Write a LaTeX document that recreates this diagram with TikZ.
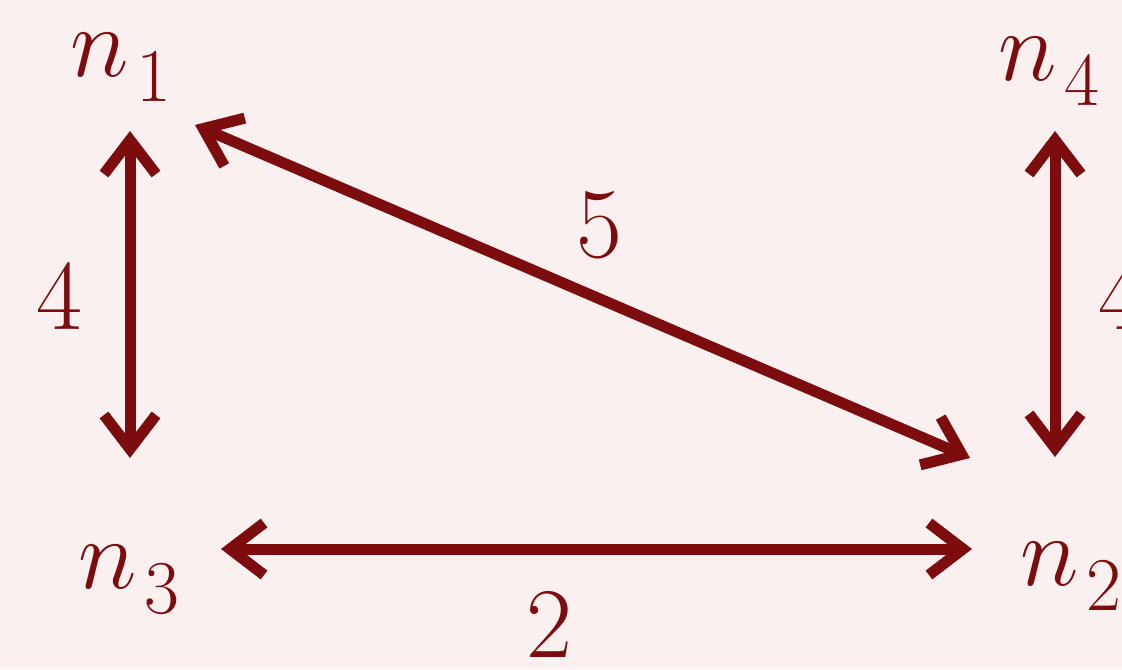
\RequirePackage{fix-cm}
\documentclass[tikz,border=0pt]{standalone}
\usetikzlibrary{arrows.meta}
\definecolor{dred}{RGB}{125,12,14}
\definecolor{bgpink}{RGB}{251,240,240}
\newcommand{\vname}[1]{$n$\kern4pt\raisebox{-12.5pt}{\fontsize{38}{40}\selectfont #1}}
\tikzset{
  lbl/.style={text=dred, inner sep=0pt, font=\fontsize{50}{60}\selectfont},
  vtx/.style={lbl, anchor=base west},
  link/.style={draw=dred, line width=5.5pt, {Straight Barb[length=17pt,width=26pt]}-{Straight Barb[length=17pt,width=26pt]}}
}
\begin{document}
\begin{tikzpicture}[x=0.5pt,y=-0.5pt]
\fill[bgpink] (0,0) rectangle (1122,669);
\useasboundingbox (0,0) rectangle (1122,669);
\node[vtx] (n1) at (70,76) {\vname{1}};
\node[vtx] (n4) at (998,80) {\vname{4}};
\node[vtx] (n3) at (78,588) {\vname{3}};
\node[vtx] (n2) at (1020,585) {\vname{2}};
\coordinate (n1s) at (130,131);
\coordinate (n3n) at (130,458);
\coordinate (n1e) at (195,125);
\coordinate (n2w) at (970,458);
\coordinate (n4s) at (1055,131);
\coordinate (n2n) at (1055,457);
\coordinate (n3e) at (221,549);
\coordinate (n2h) at (972,549);
\draw[link] (n1s) -- (n3n);
\draw[link] (n1e) -- (n2w);
\draw[link] (n4s) -- (n2n);
\draw[link] (n3e) -- (n2h);
\node[lbl] (w13) at (59,296) {4};
\node[lbl] (w12) at (599,225) {5};
\node[lbl] (w42) at (1121,296) {4};
\node[lbl] (w32) at (549,624) {2};
\end{tikzpicture}
\end{document}
